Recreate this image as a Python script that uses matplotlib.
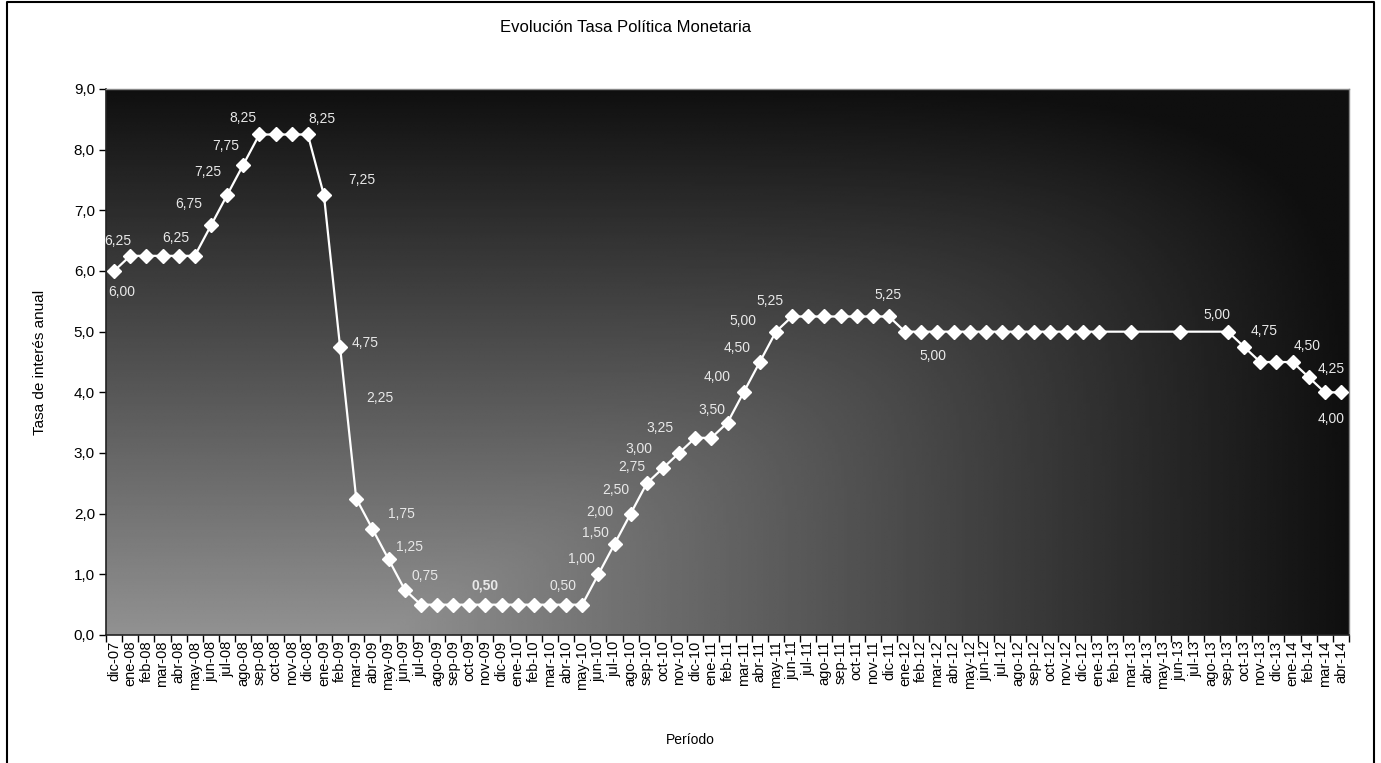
import numpy as np
import matplotlib
matplotlib.use('Agg')
import matplotlib.pyplot as plt
from matplotlib.lines import Line2D

plt.rcParams['font.family'] = ['Liberation Sans', 'DejaVu Sans']

# Periodos (eje x)
meses = ['ene', 'feb', 'mar', 'abr', 'may', 'jun', 'jul', 'ago', 'sep', 'oct', 'nov', 'dic']
periodos = ['dic-07'] + [f'{m}-{a:02d}' for a in range(8, 14) for m in meses] + [f'{m}-14' for m in meses[:4]]

# Tasa de politica monetaria (None = sin dato ese mes)
tasa = [6.00,
        6.25, 6.25, 6.25, 6.25, 6.25, 6.75, 7.25, 7.75, 8.25, 8.25, 8.25, 8.25,
        7.25, 4.75, 2.25, 1.75, 1.25, 0.75, 0.50, 0.50, 0.50, 0.50, 0.50, 0.50,
        0.50, 0.50, 0.50, 0.50, 0.50, 1.00, 1.50, 2.00, 2.50, 2.75, 3.00, 3.25,
        3.25, 3.50, 4.00, 4.50, 5.00, 5.25, 5.25, 5.25, 5.25, 5.25, 5.25, 5.25,
        5.00, 5.00, 5.00, 5.00, 5.00, 5.00, 5.00, 5.00, 5.00, 5.00, 5.00, 5.00,
        5.00, None, 5.00, None, None, 5.00, None, None, 5.00, 4.75, 4.50, 4.50,
        4.50, 4.25, 4.00, 4.00]

# Puntos con etiqueta de dato y desplazamiento de la etiqueta (px)
etiquetas = ['ene-08', 'dic-07', 'may-08', 'jun-08', 'jul-08', 'ago-08', 'sep-08', 'dic-08',
             'ene-09', 'feb-09', 'mar-09', 'abr-09', 'may-09', 'jun-09', 'nov-09', 'abr-10',
             'jun-10', 'jul-10', 'ago-10', 'sep-10', 'oct-10', 'nov-10', 'dic-10', 'feb-11',
             'mar-11', 'abr-11', 'may-11', 'jun-11', 'dic-11', 'feb-12', 'sep-13', 'oct-13',
             'ene-14', 'feb-14', 'abr-14']
desplaz = [(-12, 15), (8, -21), (-19, 18), (-22, 22), (-19, 23), (-17, 19), (-16, 16), (14, 15),
           (38, 15), (25, 4), (24, 100), (29, 15), (21, 12), (20, 14), (0, 19), (-3, 19),
           (-17, 15), (-19, 11), (-31, 2), (-31, -7), (-31, 1), (-40, 4), (-35, 10), (-16, 13),
           (-27, 15), (-23, 14), (-33, 11), (-22, 15), (-1, 21), (12, -24), (-11, 17), (20, 16),
           (15, 16), (23, 8), (-10, -27)]

W, H = 1381, 763
fig = plt.figure(figsize=(W / 100, H / 100), dpi=100)
fig.patch.set_facecolor('white')
ax = fig.add_axes([106 / W, (H - 635) / H, (1349 - 106) / W, (635 - 89) / H])

# fondo degradado del area de trazado (desde la esquina inferior izquierda)
u, v = np.meshgrid(np.linspace(0, 1, 400), np.linspace(1, 0, 300))
du = np.clip((u - 0.22) / 0.78, 0, 1)
d = np.clip((du ** 6 + v ** 6) ** (1 / 6), 0, 1)
fondo = 0.57 - 0.51 * d
ax.imshow(fondo, cmap='gray', vmin=0, vmax=1, extent=[0, 1, 0, 1], transform=ax.transAxes,
          aspect='auto', zorder=0, interpolation='bilinear')

x = np.arange(len(periodos))
y = np.array([np.nan if t is None else t for t in tasa])
ok = ~np.isnan(y)
ax.plot(x[ok], y[ok], color='white', lw=1.6, marker='D', ms=7, mfc='white', mec='white', zorder=3)

for p, (dx, dy) in zip(etiquetas, desplaz):
    i = periodos.index(p)
    txt = f'{tasa[i]:.2f}'.replace('.', ',')
    ax.annotate(txt, (x[i], tasa[i]), xytext=(dx, dy), textcoords='offset pixels',
                ha='center', va='center', fontsize=10, color='#e8e8e8',
                fontweight='bold' if p == 'nov-09' else 'normal', zorder=4)

ax.set_xlim(-0.5, len(periodos) - 0.5)
ax.set_ylim(0, 9)
ax.set_yticks(np.arange(0, 9.5, 1.0))
ax.set_yticklabels([f'{t:.1f}'.replace('.', ',') for t in np.arange(0, 9.5, 1.0)], fontsize=11)
ax.set_xticks(x)
ax.set_xticklabels(periodos, rotation=90, fontsize=10.5)
ax.set_xticks(np.arange(-0.5, len(periodos)), minor=True)
ax.tick_params(axis='x', which='major', length=0, pad=4)
ax.tick_params(axis='x', which='minor', length=5, width=1, direction='out')
ax.tick_params(axis='y', length=5, width=1, direction='out', pad=3)

for s in ['left', 'bottom']:
    ax.spines[s].set_color('#222222')
    ax.spines[s].set_linewidth(1.2)
for s in ['top', 'right']:
    ax.spines[s].set_color('#888888')
    ax.spines[s].set_linewidth(1)

fig.text(626 / W, 1 - 27 / H, 'Evolución Tasa Política Monetaria', ha='center', va='center', fontsize=12)
fig.text(40 / W, 1 - 362 / H, 'Tasa de interés anual', rotation=90, ha='center', va='center', fontsize=11)
fig.text(690 / W, 1 - 740 / H, 'Período', ha='center', va='center', fontsize=10)

# marco del grafico
xl, xr, yt = 6.5 / W, 1373.5 / W, 1 - 2 / H
fig.add_artist(Line2D([xl, xl, xr, xr], [0, yt, yt, 0], transform=fig.transFigure, color='black', lw=1.5))

fig.savefig('out.png', dpi=100)
